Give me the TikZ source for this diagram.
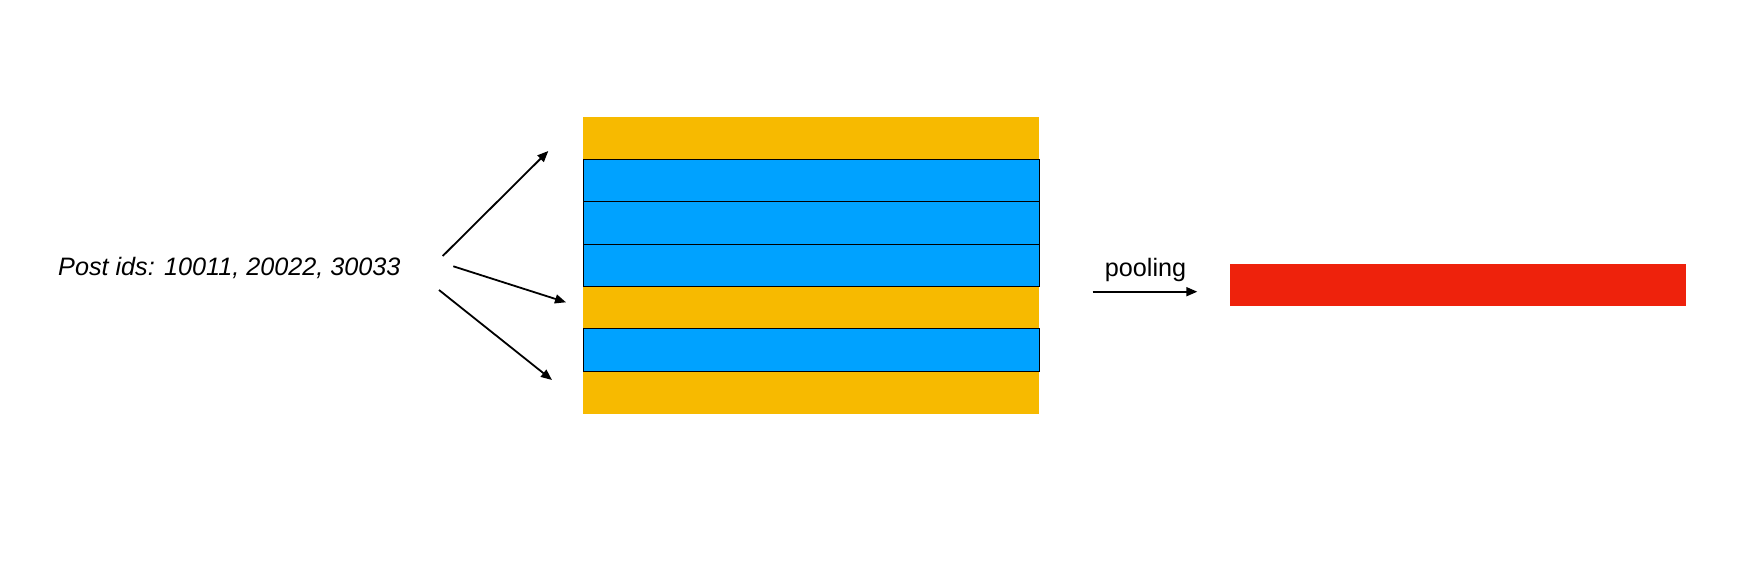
\documentclass[tikz,border=0pt]{standalone}
\usepackage{fontspec}
\setmainfont{Liberation Sans}
\usetikzlibrary{arrows.meta}
\definecolor{korange}{HTML}{F7BA00}
\definecolor{kblue}{HTML}{00A2FF}
\definecolor{kred}{HTML}{EE220C}
\tikzset{
  row/.style={minimum width=456pt,minimum height=42.43pt,inner sep=0pt,outer sep=0pt,anchor=north west},
  orow/.style={row,fill=korange},
  brow/.style={row,fill=kblue,draw=black,line width=1pt},
  arr/.style={line width=1.8pt,-{Triangle[length=11pt,width=9pt]}},
  lbl/.style={inner sep=0pt,font=\fontsize{25.2}{30}\selectfont}
}
\begin{document}
\begin{tikzpicture}[x=1pt,y=-1pt]
\useasboundingbox (0,0) rectangle (1758,568);
\node[orow] (r0) at (583,117) {};
\node[orow] (r4) at (583,286.3) {};
\node[orow] (r6) at (583,371.3) {};
\node[brow] (r1) at (583,159.3) {};
\node[brow] (r2) at (583,201.7) {};
\node[brow] (r3) at (583,244.1) {};
\node[brow] (r5) at (583,328.9) {};
\node[inner sep=0pt,outer sep=0pt,minimum width=456pt,minimum height=41.7pt,fill=kred,anchor=north west] (red) at (1230,264) {};
\node[lbl,anchor=base west,font=\fontsize{25.2}{30}\selectfont\itshape] (ids) at (58,275) {Post ids: 10011, 20022, 30033};
\node[lbl,anchor=base] (pool) at (1145.5,276) {pooling};
\coordinate (a1s) at (442.7,256);
\coordinate (a1e) at (548.3,151);
\coordinate (a2s) at (453.3,266.3);
\coordinate (a2e) at (566,302.3);
\coordinate (a3s) at (439,290);
\coordinate (a3e) at (552,380);
\coordinate (ps) at (1092.7,291.7);
\coordinate (pe) at (1197.3,291.7);
\draw[arr] (a1s) -- (a1e);
\draw[arr] (a2s) -- (a2e);
\draw[arr] (a3s) -- (a3e);
\draw[arr] (ps) -- (pe);
\end{tikzpicture}
\end{document}
